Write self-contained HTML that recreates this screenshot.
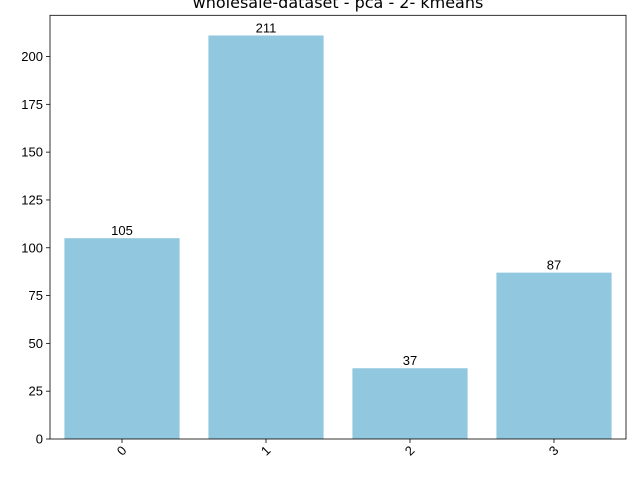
<!DOCTYPE html>
<html><head><meta charset="utf-8"><style>
body{margin:0;background:#fff;font-family:"Liberation Sans","DejaVu Sans",sans-serif}
svg text{font-family:"Liberation Sans","DejaVu Sans",sans-serif;font-size:13px;fill:#000}
</style></head><body>
<svg id="c" width="640" height="480"></svg>
<script>
const categories=["0","1","2","3"];
const counts=[105,211,37,87];
const yTicks=[0,25,50,75,100,125,150,175,200];
const NS="http://www.w3.org/2000/svg";
const svg=document.getElementById('c');
const L=50,R=626,T=15.3,B=439,yMax=221.55;
const y=v=>B-(v/yMax)*(B-T);
const band=(R-L)/categories.length;
const x=i=>L+band*i;
function mk(t,a,txt){const e=document.createElementNS(NS,t);for(const k in a)e.setAttribute(k,a[k]);if(txt!==undefined)e.textContent=txt;svg.appendChild(e);return e;}
const title=mk('text',{x:(L+R)/2,y:8,'text-anchor':'middle',style:'font-size:16px;font-family:"DejaVu Sans",sans-serif'},'wholesale-dataset - pca - 2- kmeans');


counts.forEach((v,i)=>{
 const bx=x(i)+band*0.1,bw=band*0.8;
 const r=mk('rect',{x:bx,y:y(v),width:bw,height:B-y(v),fill:'#92c8df'});
 
 
 const t=mk('text',{x:bx+bw/2,y:y(v)-3,'text-anchor':'middle'},String(v));
 
 
 const cx=x(i)+band/2;
 mk('line',{x1:cx,x2:cx,y1:B,y2:B+4,stroke:'#000','stroke-width':0.8});
 const tl=mk('text',{x:cx,y:B+16,'text-anchor':'middle',transform:`rotate(-45 ${cx} ${B+12})`},categories[i]);
 
 
});
yTicks.forEach(v=>{
 mk('line',{x1:L-4,x2:L,y1:y(v),y2:y(v),stroke:'#000','stroke-width':0.8});
 const t=mk('text',{x:L-7,y:y(v)+4.5,'text-anchor':'end'},String(v));
 
 
});
const f=mk('rect',{x:L,y:T,width:R-L,height:B-T,fill:'none',stroke:'#000','stroke-width':0.8});


</script>
</body></html>
